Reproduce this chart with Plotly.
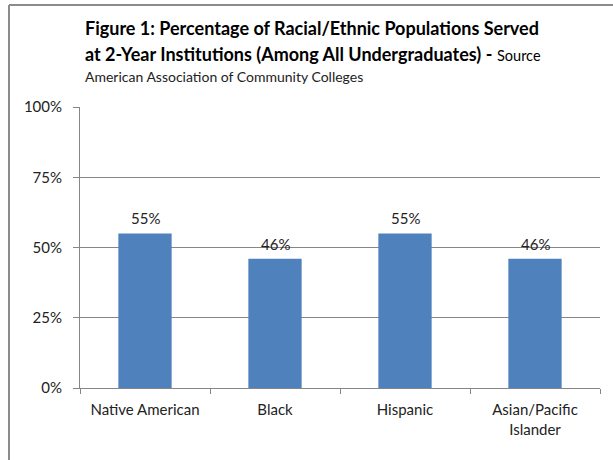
import plotly.graph_objects as go

categories = ["Native American", "Black", "Hispanic", "Asian/Pacific<br>Islander"]
values = [0.55, 0.46, 0.55, 0.46]
tick_vals = [0, 0.25, 0.5, 0.75, 1.0]
tick_text = ["0%", "25%", "50%", "75%", "100%"]

FONT = "Lato, 'Open Sans', sans-serif"
L, R, T, B = 80, 13, 107, 72
W, H = 613, 460
pw, ph = W - L - R, H - T - B

def px(x):
    return (x - L) / pw

def py(y):
    return (H - B - y) / ph

fig = go.Figure(go.Bar(
    x=categories, y=values,
    marker=dict(color="#4F81BD", line=dict(width=0)),
    width=0.41,
))

for c, v in zip(categories, values):
    fig.add_annotation(x=c, y=v, text=f"{v:.0%}", showarrow=False,
                       yanchor="bottom", yshift=4,
                       font=dict(family=FONT, size=15, color="#222222"))

fig.update_layout(
    width=W, height=H,
    margin=dict(l=L, r=R, t=T, b=B),
    paper_bgcolor="white", plot_bgcolor="white",
    showlegend=False,
    font=dict(family=FONT, size=15, color="#222222"),
    xaxis=dict(
        showline=True, linecolor="#868686", linewidth=1,
        ticks="outside", tickson="boundaries", ticklen=5, tickcolor="#868686",
        showgrid=False, tickfont=dict(size=15, color="#222222"),
        ticklabelstandoff=8,
    ),
    yaxis=dict(
        range=[0, 1], tickvals=tick_vals, ticktext=tick_text,
        showline=True, linecolor="#868686", linewidth=1,
        ticks="outside", ticklen=6, tickcolor="#868686",
        showgrid=True, gridcolor="#868686", gridwidth=1,
        zeroline=False, tickfont=dict(size=15, color="#222222"),
        ticklabelstandoff=8,
    ),
    bargap=0.59,
)

# frame lines of the original chart box
fig.add_shape(type="line", xref="paper", yref="paper",
              x0=px(9), x1=px(9), y0=py(5), y1=py(470),
              line=dict(color="#8C8C8C", width=2))
fig.add_shape(type="line", xref="paper", yref="paper",
              x0=px(9), x1=px(640), y0=py(5), y1=py(5),
              line=dict(color="#8C8C8C", width=2))

fig.add_annotation(xref="paper", yref="paper", x=px(83), y=py(28),
                   xanchor="left", yanchor="middle", showarrow=False,
                   text="<b>Figure 1: Percentage of Racial/Ethnic Populations Served</b>",
                   font=dict(family=FONT, size=18, color="#000000"))
fig.add_annotation(xref="paper", yref="paper", x=px(83), y=py(54),
                   xanchor="left", yanchor="middle", showarrow=False,
                   text="<b>at 2-Year Institutions (Among All Undergraduates) -</b> <span style='font-size:14.5px'>Source</span>",
                   font=dict(family=FONT, size=18, color="#000000"))
fig.add_annotation(xref="paper", yref="paper", x=px(83), y=py(77),
                   xanchor="left", yanchor="middle", showarrow=False,
                   text="American Association of Community Colleges",
                   font=dict(family=FONT, size=14, color="#222222"))

fig.write_html("out.html")
